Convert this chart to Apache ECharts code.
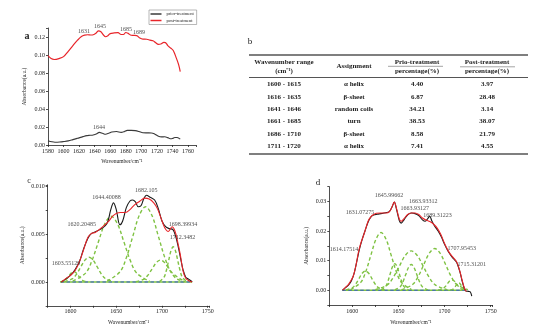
<!DOCTYPE html>
<html><head><meta charset="utf-8">
<script src="https://cdn.jsdelivr.net/npm/echarts@6/dist/echarts.min.js"></script>
<style>html,body{margin:0;padding:0;background:#fff}#c{width:539px;height:334px}</style>
</head><body><div id="c"></div>
<script>
// ---------- Panel a data ----------
const priorCurve = [[1580,0.0048],[1585,0.0036],[1589,0.0031],[1595,0.0033],[1600,0.0038],[1606,0.0046],[1612,0.0060],[1618,0.0075],[1625,0.0093],[1630,0.0104],[1634,0.0108],[1638,0.0112],[1642,0.0121],[1646,0.0140],[1650,0.0131],[1654,0.0120],[1658,0.0130],[1662,0.0144],[1668,0.0150],[1674,0.0140],[1678,0.0148],[1682,0.0162],[1687,0.0162],[1692,0.0160],[1697,0.0150],[1702,0.0136],[1708,0.0135],[1713,0.0134],[1717,0.0122],[1722,0.0097],[1726,0.0090],[1730,0.0091],[1734,0.0082],[1737,0.0070],[1740,0.0072],[1743,0.0084],[1746,0.0083],[1750,0.0065]];
const postCurve = [[1580,0.0992],[1584,0.0960],[1588,0.0950],[1594,0.0960],[1600,0.0982],[1606,0.1040],[1612,0.1105],[1618,0.1165],[1623,0.1205],[1627,0.1220],[1631,0.1225],[1635,0.1222],[1639,0.1228],[1642,0.1245],[1645,0.1268],[1648,0.1258],[1651,0.1225],[1654,0.1203],[1657,0.1215],[1660,0.1238],[1665,0.1245],[1670,0.1248],[1674,0.1228],[1677,0.1228],[1680,0.1250],[1683,0.1240],[1686,0.1222],[1690,0.1218],[1694,0.1215],[1698,0.1188],[1702,0.1176],[1707,0.1175],[1711,0.1166],[1715,0.1158],[1718,0.1140],[1722,0.1118],[1725,0.1122],[1729,0.1140],[1731,0.1138],[1734,0.1105],[1738,0.1075],[1741,0.1050],[1745,0.0965],[1748,0.0890],[1750,0.0815]];
const labelsA = [['1631',1626.3,0.1259],['1645',1646.8,0.1314],['1685',1680.3,0.1286],['1689',1697.0,0.1256],['1644',1645.6,0.0192]];
const legendNames = ['prior-treatment','post-treatment'];

// ---------- Panel b data ----------
const tableHeader = [['Wavenumber range','(cm\u207B\u00B9)'],['Assignment'],['Prio-treatment','percentage(%)'],['Post-treatment','percentage(%)']];
const rangeCol  = ['1600 - 1615','1616 - 1635','1641 - 1646','1661 - 1685','1686 - 1710','1711 - 1720'];
const assignCol = ['\u03B1 helix','\u03B2-sheet','random coils','turn','\u03B2-sheet','\u03B1 helix'];
const priorPct  = ['4.40','6.87','34.21','38.53','8.58','7.41'];
const postPct   = ['3.97','28.48','3.14','38.07','21.79','4.55'];

// ---------- Panel c data ----------
const measuredC = [[1590,0.0000],[1596,0.0004],[1601,0.0008],[1605,0.0013],[1610,0.0022],[1614,0.0034],[1619,0.0046],[1623,0.0051],[1628,0.0053],[1634,0.0056],[1638,0.0059],[1641,0.0064],[1644,0.0076],[1647,0.0083],[1650,0.0076],[1654,0.0060],[1657,0.0064],[1661,0.0078],[1665,0.0085],[1668,0.0086],[1671,0.0084],[1674,0.0079],[1677,0.0080],[1680,0.0087],[1683,0.0091],[1687,0.0089],[1692,0.0086],[1696,0.0077],[1700,0.0064],[1704,0.0058],[1708,0.0056],[1712,0.0055],[1715,0.0048],[1718,0.0036],[1721,0.0022],[1723,0.0013],[1726,0.0005],[1729,0.0003],[1732,0.0001],[1733,0.0000]];
const fitC = [[1590,0.0000],[1594,0.0003],[1600,0.0007],[1605,0.0012],[1610,0.0022],[1614,0.0033],[1619,0.0047],[1623,0.0051],[1627,0.0052],[1634,0.0057],[1641,0.0063],[1646,0.0069],[1650,0.0072],[1655,0.0073],[1660,0.0073],[1665,0.0076],[1670,0.0081],[1676,0.0085],[1681,0.0088],[1686,0.0087],[1691,0.0083],[1695,0.0077],[1699,0.0067],[1703,0.0057],[1707,0.0053],[1711,0.0058],[1714,0.0054],[1717,0.0043],[1720,0.0029],[1723,0.0012],[1726,0.0004],[1730,0.0001],[1733,0.0000]];
const compC1 = [[1588.5,0.00001],[1593.5,0.00015],[1596,0.00036],[1598.5,0.00067],[1601,0.00097],[1603.5,0.0011],[1606,0.00097],[1608.5,0.00067],[1611,0.00036],[1613.5,0.00015],[1618.5,0.00001]];
const compC2 = [[1593.2,0.00003],[1602.2,0.00035],[1606.7,0.00084],[1611.2,0.00158],[1615.7,0.00229],[1620.2,0.0026],[1624.7,0.00229],[1629.2,0.00158],[1633.7,0.00084],[1638.2,0.00035],[1647.2,0.00003]];
const compC3 = [[1602.4,0.00008],[1616.4,0.00093],[1623.4,0.00224],[1630.4,0.00419],[1637.4,0.00609],[1644.4,0.0069],[1651.4,0.00609],[1658.4,0.00419],[1665.4,0.00224],[1672.4,0.00093],[1686.4,0.00008]];
const compC4 = [[1640.1,0.00009],[1654.1,0.00107],[1661.1,0.00257],[1668.1,0.00479],[1675.1,0.00697],[1682.1,0.0079],[1689.1,0.00697],[1696.1,0.00479],[1703.1,0.00257],[1710.1,0.00107],[1724.1,0.00009]];
const compC5 = [[1671.4,0.00003],[1680.4,0.00031],[1684.9,0.00075],[1689.4,0.0014],[1693.9,0.00203],[1698.4,0.0023],[1702.9,0.00203],[1707.4,0.0014],[1711.9,0.00075],[1716.4,0.00031],[1725.4,0.00003]];
const compC6 = [[1697.3,0.00004],[1702.3,0.0005],[1704.8,0.0012],[1707.3,0.00224],[1709.8,0.00326],[1712.3,0.0037],[1714.8,0.00326],[1717.3,0.00224],[1719.8,0.0012],[1722.3,0.0005],[1727.3,0.00004]];
const baselineC = [[1589,0],[1733,0]];
const labelsC = [['1603.55129',1595.0,0.0020],['1620.20485',1612.2,0.0060],['1644.40088',1639.3,0.00887],['1682.105',1682.9,0.00966],['1698.39934',1723.0,0.0060],['1712.3482',1722.5,0.0047]];

// ---------- Panel d data ----------
const measuredD = [[1589.5,0],[1592,0.0007],[1596,0.0018],[1599,0.0032],[1602,0.0058],[1605,0.0100],[1608,0.0142],[1611,0.0175],[1614,0.0203],[1617,0.0230],[1620,0.0247],[1623,0.0254],[1627,0.0257],[1631,0.0259],[1636,0.0262],[1640,0.0266],[1643,0.0281],[1645.5,0.0298],[1648,0.0272],[1651,0.0235],[1653,0.0227],[1656,0.0238],[1660,0.0255],[1664,0.0261],[1668,0.0259],[1672,0.0252],[1676,0.0238],[1679,0.0233],[1682,0.0243],[1684,0.0250],[1686,0.0236],[1689,0.0218],[1693,0.0200],[1697,0.0177],[1700,0.0155],[1704,0.0131],[1708,0.0113],[1712,0.0099],[1714,0.0088],[1717,0.0058],[1719,0.0032],[1721,0.0010],[1723,-0.0002],[1726,-0.0004],[1728,-0.0006],[1729.5,-0.0020]];
const fitD = [[1589.5,0],[1592,0.0008],[1595.6,0.0019],[1598,0.0030],[1601,0.0048],[1604,0.0085],[1606.5,0.0127],[1609,0.0157],[1612,0.0184],[1615,0.0213],[1617.3,0.0235],[1620,0.0248],[1622.7,0.0255],[1626,0.0260],[1631,0.0261],[1637,0.0261],[1640,0.0265],[1642.5,0.0278],[1645.5,0.0298],[1648,0.0275],[1651,0.0240],[1653,0.0233],[1656,0.0242],[1660,0.0256],[1664,0.0261],[1668,0.0261],[1672,0.0256],[1676,0.0244],[1680,0.0237],[1684,0.0232],[1688,0.0224],[1692,0.0210],[1696,0.0188],[1700,0.0158],[1704,0.0133],[1708,0.0115],[1712,0.0101],[1714,0.0090],[1716.8,0.0062],[1719,0.0035],[1721,0.0012],[1722.5,0.0000],[1724,-0.0004]];
const compD1 = [[1593.2,0.00007],[1600.2,0.00088],[1603.7,0.00211],[1607.2,0.00394],[1610.7,0.00574],[1614.2,0.0065],[1617.7,0.00574],[1621.2,0.00394],[1624.7,0.00211],[1628.2,0.00088],[1635.2,0.00007]];
const compD2 = [[1598.1,0.00022],[1609.1,0.00264],[1614.6,0.00633],[1620.1,0.01183],[1625.6,0.0172],[1631.1,0.0195],[1636.6,0.0172],[1642.1,0.01183],[1647.6,0.00633],[1653.1,0.00264],[1664.1,0.00022]];
const compD3 = [[1631,0.0001],[1636,0.00122],[1638.5,0.00292],[1641,0.00546],[1643.5,0.00794],[1646,0.009],[1648.5,0.00794],[1651,0.00546],[1653.5,0.00292],[1656,0.00122],[1661,0.0001]];
const compD4 = [[1624.9,0.00015],[1637.9,0.0018],[1644.4,0.00432],[1650.9,0.00807],[1657.4,0.01174],[1663.9,0.0133],[1670.4,0.01174],[1676.9,0.00807],[1683.4,0.00432],[1689.9,0.0018],[1702.9,0.00015]];
const compD5 = [[1645.9,0.0001],[1651.9,0.00118],[1654.9,0.00283],[1657.9,0.00528],[1660.9,0.00767],[1663.9,0.0087],[1666.9,0.00767],[1669.9,0.00528],[1672.9,0.00283],[1675.9,0.00118],[1681.9,0.0001]];
const compD6 = [[1653.3,0.00016],[1665.3,0.00191],[1671.3,0.00458],[1677.3,0.00855],[1683.3,0.01244],[1689.3,0.0141],[1695.3,0.01244],[1701.3,0.00855],[1707.3,0.00458],[1713.3,0.00191],[1725.3,0.00016]];
const compD7 = [[1693,0.00004],[1698,0.00047],[1700.5,0.00114],[1703,0.00212],[1705.5,0.00309],[1708,0.0035],[1710.5,0.00309],[1713,0.00212],[1715.5,0.00114],[1718,0.00047],[1723,0.00004]];
const compD8 = [[1706.3,0.00003],[1709.3,0.00034],[1710.8,0.00081],[1712.3,0.00152],[1713.8,0.00221],[1715.3,0.0025],[1716.8,0.00221],[1718.3,0.00152],[1719.8,0.00081],[1721.3,0.00034],[1724.3,0.00003]];
const baselineD = [[1589,0],[1722,0]];
const labelsD = [['1645.99662',1639.7,0.0322],['1663.93312',1677.0,0.0299],['1663.93127',1667.6,0.0277],['1689.31223',1692.4,0.0252],['1631.07275',1608.3,0.0263],['1614.17514',1591.0,0.0138],['1707.95453',1718.6,0.0142],['1715.31201',1729.4,0.0087]];

const panelLetters = ['a','b','c','d'];
const xTitle = 'Wavenumber/cm\u207B\u00B9';
const yTitle = 'Absorbance(a.u.)';

// ---------- styling & build ----------
const SERIF = '"Liberation Serif","Times New Roman",serif';
const INK = '#222';
const RED = '#e8252a';
const GREEN = '#7fc243';
const BLUE = '#2b4de0';

function near(v, step){ return Math.abs(v/step - Math.round(v/step)) < 1e-6; }

function xAxisOf(grid, min, max, interval, labStep, gap){
  return {type:'value', gridIndex:grid, min, max, interval,
    name:xTitle, nameLocation:'middle', nameGap:gap,
    nameTextStyle:{fontSize:5.5, color:INK, fontFamily:SERIF},
    axisLine:{show:true, onZero:false, lineStyle:{color:INK, width:0.8}},
    axisTick:{show:true, length:2, lineStyle:{color:INK, width:0.8}},
    axisLabel:{fontSize:6, color:INK, fontFamily:SERIF, margin:3, showMaxLabel:true,
      formatter:v=> near(v,labStep) && v<=max-1 ? String(Math.round(v)) : ''},
    splitLine:{show:false}};
}
function yAxisOf(grid, min, max, interval, labStep, digits, gap){
  return {type:'value', gridIndex:grid, min, max, interval,
    name:yTitle, nameLocation:'middle', nameGap:gap,
    nameTextStyle:{fontSize:5.5, color:INK, fontFamily:SERIF},
    axisLine:{show:true, onZero:false, lineStyle:{color:INK, width:0.8}},
    axisTick:{show:true, length:2, lineStyle:{color:INK, width:0.8}},
    axisLabel:{fontSize:6, color:INK, fontFamily:SERIF, margin:3,
      formatter:v=> near(v,labStep) && v<=max+1e-9 && v>=-1e-9 ? v.toFixed(digits) : ''},
    splitLine:{show:false}};
}
function lineS(ax, data, color, width, dashed, name, z){
  return {type:'line', name, xAxisIndex:ax, yAxisIndex:ax, data, smooth:0.35, symbol:'none', showSymbol:false,
    z:z||2, silent:true, lineStyle:{color, width, type:dashed?[3.5,2.5]:'solid'}, itemStyle:{color}};
}
function labelS(ax, labels){
  return {type:'scatter', xAxisIndex:ax, yAxisIndex:ax, symbolSize:0, clip:false, silent:true, z:10,
    data: labels.map(l=>({name:l[0], value:[l[1], l[2]]})),
    label:{show:true, position:'inside', formatter:'{b}', fontSize:6, fontFamily:SERIF, color:INK}};
}

const series = [];
// a
series.push(lineS(0, priorCurve, '#3a3a3a', 1.1, false, legendNames[0]));
series.push(lineS(0, postCurve, RED, 1.2, false, legendNames[1]));
series.push(labelS(0, labelsA));
// c
series.push(lineS(1, baselineC, GREEN, 1.4, false, 'baseC'));
series.push({...lineS(1, baselineC, BLUE, 0.9, true, 'baseC2'), smooth:false});
[compC1,compC2,compC3,compC4,compC5,compC6].forEach((c,i)=>series.push(lineS(1, c, GREEN, 1.4, true, 'cc'+i, 3)));
series.push(lineS(1, measuredC, '#1a1a1a', 1.1, false, 'measC', 4));
series.push(lineS(1, fitC, RED, 1.1, false, 'fitC', 5));
series.push(labelS(1, labelsC));
// d
series.push(lineS(2, baselineD, GREEN, 1.4, false, 'baseD'));
series.push({...lineS(2, baselineD, BLUE, 0.9, true, 'baseD2'), smooth:false});
[compD1,compD2,compD3,compD4,compD5,compD6,compD7,compD8].forEach((c,i)=>series.push(lineS(2, c, GREEN, 1.4, true, 'dc'+i, 3)));
series.push(lineS(2, measuredD, '#1a1a1a', 1.1, false, 'measD', 4));
series.push(lineS(2, fitD, RED, 1.1, false, 'fitD', 5));
series.push(labelS(2, labelsD));

// ---------- table graphic (b) ----------
const colX = [284, 354, 417, 487];
const tX0 = 249, tX1 = 528;
const rowY0 = 84.5, rowStep = 12.3;
function gtext(x, y, s, size, bold, align){
  return {type:'text', x, y, silent:true, style:{text:s, fill:INK, fontSize:size, fontWeight:bold?'bold':'normal', fontFamily:SERIF,
    align:align||'center', verticalAlign:'middle', textAlign:align||'center', textVerticalAlign:'middle'}};
}
function gline(x1,y1,x2,y2,w,c){ return {type:'line', silent:true, shape:{x1,y1,x2,y2}, style:{stroke:c||'#555', lineWidth:w}}; }
const graphics = [];
graphics.push(gline(tX0,55,tX1,55,1.4));
graphics.push(gline(tX0,77.5,tX1,77.5,1.1));
graphics.push(gline(tX0,154,tX1,154,1.4));
tableHeader.forEach((h,i)=>{
  if (h.length===1) graphics.push(gtext(colX[i], 66.5, h[0], 7, true));
  else { graphics.push(gtext(colX[i], 62, h[0], 7, true)); graphics.push(gtext(colX[i], 71.5, h[1], 7, true)); }
});
graphics.push(gline(388,66.3,443,66.3,0.6,'#666'));
graphics.push(gline(460,66.8,515,66.8,0.6,'#666'));
[rangeCol, assignCol, priorPct, postPct].forEach((col,ci)=>{
  col.forEach((s,ri)=>graphics.push(gtext(colX[ci], rowY0+ri*rowStep, s, 7, true)));
});
// panel letters
const letterPos = [[27,36,10],[250,42,9],[29,181,8],[318,183,9]];
panelLetters.forEach((L,i)=>graphics.push(gtext(letterPos[i][0], letterPos[i][1], L, letterPos[i][2], i===0)));

const option = {
  animation:false,
  backgroundColor:'#fff',
  textStyle:{fontFamily:SERIF},
  grid:[
    {left:48, top:28, width:147.8, height:117},
    {left:47.7, top:184.8, width:161.8, height:121},
    {left:329.3, top:186.7, width:163.2, height:118.3}
  ],
  xAxis:[
    xAxisOf(0, 1580, 1770, 20, 20, 14),
    xAxisOf(1, 1575, 1752, 25, 50, 14),
    xAxisOf(2, 1575, 1752, 25, 50, 15)
  ],
  yAxis:[
    yAxisOf(0, 0, 0.13, 0.02, 0.02, 2, 20),
    yAxisOf(1, -0.0025, 0.0102, 0.0025, 0.005, 3, 22),
    yAxisOf(2, -0.005, 0.035, 0.005, 0.01, 2, 20)
  ],
  legend:{data:legendNames, left:149, top:10, orient:'vertical', icon:'rect', itemWidth:11, itemHeight:1.5, itemGap:1.5,
    padding:[1.5,3,1.5,1.5], borderColor:'#888', borderWidth:0.6,
    textStyle:{fontSize:4.5, fontFamily:SERIF, color:INK}},
  graphic:graphics,
  series
};
const chart = echarts.init(document.getElementById('c'), null, {renderer:'canvas'});
chart.setOption(option);
</script></body></html>
